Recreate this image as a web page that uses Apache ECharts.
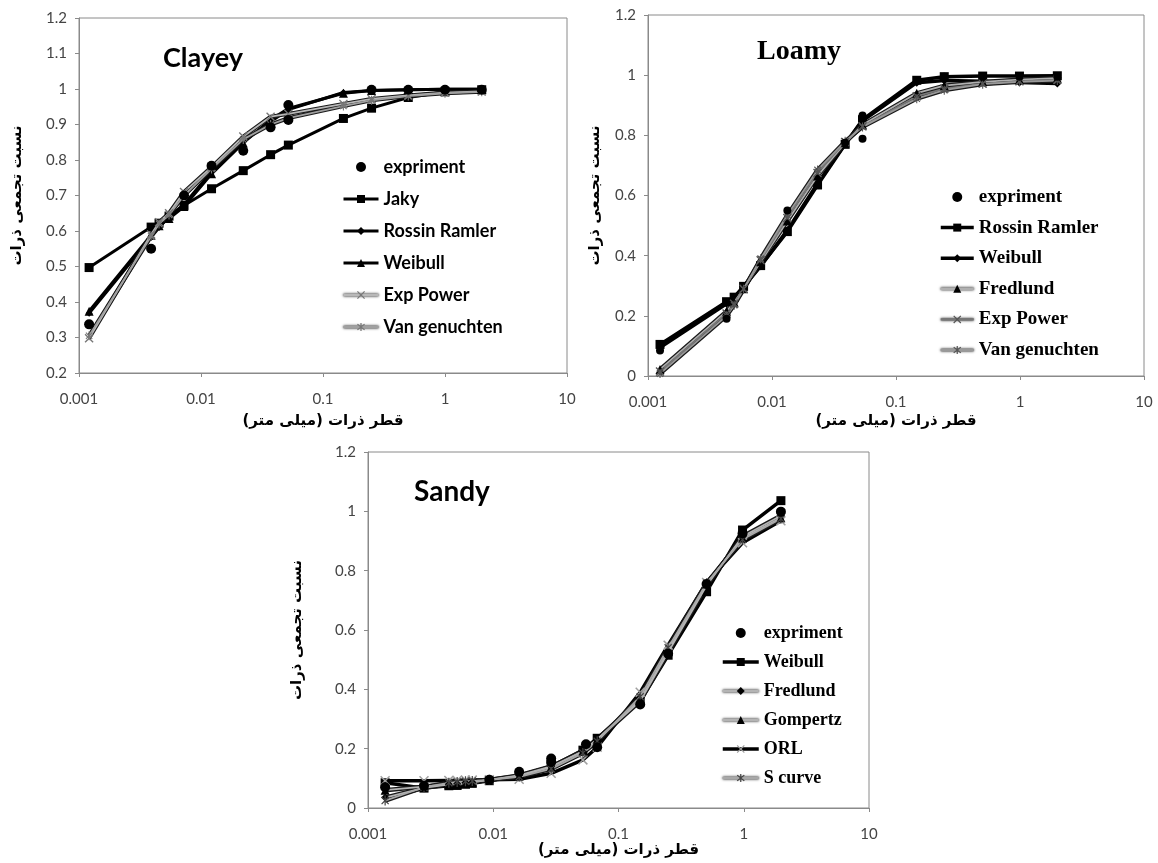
<!DOCTYPE html>
<html><head><meta charset="utf-8">
<script src="https://cdn.jsdelivr.net/npm/echarts@6/dist/echarts.min.js"></script>
<style>html,body{margin:0;padding:0;background:#fff}#c{width:1158px;height:863px}</style>
</head><body><div id="c"></div>
<script>
// ---------------- data ----------------
const yTitle = '\u200F' + 'نسبت تجمعی ذرات' + '\u200F';
const xTitle = '\u200F' + 'قطر ذرات (میلی متر)' + '\u200F';

// Clayey
const clayX        = [0.00121, 0.0039, 0.00453, 0.00547, 0.00726, 0.0122, 0.0222, 0.0372, 0.052, 0.147, 0.25, 0.5, 1, 2];
const clayJaky     = [0.497, 0.611, 0.622, 0.642, 0.672, 0.719, 0.770, 0.815, 0.842, 0.917, 0.946, 0.976, 0.992, 0.998];
const clayRossin   = [0.368, 0.582, 0.610, 0.640, 0.675, 0.768, 0.852, 0.908, 0.942, 0.990, 0.996, 0.998, 0.999, 0.999];
const clayWeibull  = [0.374, 0.588, 0.615, 0.635, 0.669, 0.761, 0.848, 0.913, 0.945, 0.988, 0.996, 0.998, 0.999, 0.999];
const clayExpPow   = [0.298, 0.590, 0.625, 0.650, 0.710, 0.780, 0.866, 0.922, 0.930, 0.958, 0.972, 0.982, 0.990, 0.993];
const clayVanG     = [0.305, 0.585, 0.620, 0.645, 0.700, 0.775, 0.858, 0.900, 0.918, 0.952, 0.968, 0.980, 0.988, 0.992];
const clayExpX     = [0.00121, 0.0039, 0.00726, 0.0122, 0.0222, 0.0372, 0.052, 0.052, 0.25, 0.5, 1, 2];
const clayExpY     = [0.337, 0.550, 0.700, 0.784, 0.826, 0.892, 0.955, 0.913, 0.998, 0.998, 0.998, 0.998];

// Loamy
const loamX        = [0.00125, 0.0043, 0.00495, 0.0059, 0.0081, 0.0133, 0.0233, 0.0389, 0.0537, 0.147, 0.245, 0.5, 0.99, 2.0];
const loamRossin   = [0.105, 0.247, 0.262, 0.298, 0.367, 0.480, 0.635, 0.770, 0.852, 0.983, 0.995, 0.997, 0.997, 0.998];
const loamWeibull  = [0.095, 0.240, 0.258, 0.296, 0.365, 0.485, 0.640, 0.772, 0.848, 0.975, 0.982, 0.980, 0.976, 0.972];
const loamFredlund = [0.022, 0.215, 0.245, 0.290, 0.380, 0.515, 0.665, 0.775, 0.835, 0.940, 0.965, 0.978, 0.985, 0.990];
const loamExpPow   = [0.015, 0.208, 0.240, 0.290, 0.385, 0.525, 0.675, 0.778, 0.830, 0.930, 0.955, 0.972, 0.980, 0.985];
const loamVanG     = [0.008, 0.200, 0.235, 0.288, 0.390, 0.535, 0.685, 0.780, 0.828, 0.922, 0.950, 0.970, 0.978, 0.982];
const loamExpX     = [0.00125, 0.0043, 0.0133, 0.0389, 0.0537, 0.0537, 0.245, 0.5, 0.99, 2.0];
const loamExpY     = [0.085, 0.190, 0.550, 0.775, 0.866, 0.789, 0.995, 0.995, 0.995, 0.995];

// Sandy
const sandX        = [0.00137, 0.0028, 0.00442, 0.00515, 0.006, 0.0068, 0.0093, 0.0161, 0.029, 0.052, 0.0676, 0.149, 0.249, 0.505, 0.978, 1.98];
const sandWeibull  = [0.085, 0.067, 0.075, 0.076, 0.080, 0.083, 0.092, 0.110, 0.140, 0.195, 0.235, 0.360, 0.515, 0.729, 0.937, 1.036];
const sandFredlund = [0.035, 0.068, 0.080, 0.082, 0.085, 0.087, 0.095, 0.110, 0.140, 0.190, 0.230, 0.360, 0.525, 0.750, 0.915, 0.985];
const sandGompertz = [0.060, 0.072, 0.080, 0.082, 0.085, 0.087, 0.095, 0.108, 0.138, 0.192, 0.232, 0.365, 0.530, 0.755, 0.910, 0.978];
const sandORL      = [0.092, 0.092, 0.093, 0.093, 0.094, 0.094, 0.095, 0.097, 0.117, 0.162, 0.205, 0.390, 0.549, 0.760, 0.894, 0.968];
const sandScurve   = [0.025, 0.070, 0.085, 0.088, 0.090, 0.091, 0.095, 0.105, 0.132, 0.185, 0.225, 0.375, 0.540, 0.758, 0.905, 0.975];
const sandExpX     = [0.00137, 0.0028, 0.0093, 0.0161, 0.029, 0.029, 0.055, 0.0676, 0.149, 0.249, 0.505, 0.978, 1.98];
const sandExpY     = [0.070, 0.075, 0.095, 0.122, 0.167, 0.155, 0.215, 0.205, 0.349, 0.520, 0.755, 0.925, 0.999];

// ---------------- helpers ----------------
function pairs(xs, ys) { return xs.map((x, i) => [x, ys[i]]); }

function armStar(angles, R, hw) {
  const pts = [];
  const n = angles.length;
  for (let i = 0; i < n; i++) {
    const a = angles[i] * Math.PI / 180;
    const c = Math.cos(a), s = Math.sin(a);
    const px = -s, py = c;
    pts.push([R * c - hw * px, R * s - hw * py]);
    pts.push([R * c + hw * px, R * s + hw * py]);
    const b = angles[(i + 1) % n] + (i + 1 === n ? 360 : 0);
    const gap = (b - angles[i]) * Math.PI / 180;
    const mid = a + gap / 2;
    const r = hw / Math.sin(gap / 2);
    pts.push([r * Math.cos(mid), r * Math.sin(mid)]);
  }
  return 'path://' + pts.map((p, i) => (i ? 'L' : 'M') + (p[0] + R).toFixed(3) + ',' + (p[1] + R).toFixed(3)).join('') + 'Z';
}
const SYM_X = armStar([45, 135, 225, 315], 5, 0.6);
const SYM_STAR = armStar([45, 90, 135, 225, 270, 315], 5, 0.6);

const outlinedNames = [];
function blackLine(name, gi, xs, ys, symbol, size, width) {
  return [{
    type: 'line', name, xAxisIndex: gi, yAxisIndex: gi, data: pairs(xs, ys),
    symbol, symbolSize: size, symbolKeepAspect: true, showSymbol: true,
    lineStyle: { color: '#000', width: width },
    itemStyle: { color: '#000' }, z: 3
  }];
}
// grey line with a dark outline: grey core (carries markers & legend icon) over a wider black line
function outlinedLine(name, gi, xs, ys, symbol, size, symColor, coreColor, outerW) {
  const d = pairs(xs, ys);
  outlinedNames.push(name);
  return [{
    type: 'line', name, xAxisIndex: gi, yAxisIndex: gi, data: d,
    symbol, symbolSize: size, symbolKeepAspect: true, showSymbol: true,
    lineStyle: { color: coreColor || '#b4b4b4', width: 1.8 },
    itemStyle: { color: symColor }, z: 4
  }, {
    type: 'line', name, xAxisIndex: gi, yAxisIndex: gi, data: d,
    symbol: 'none', silent: true,
    lineStyle: { color: '#1a1a1a', width: outerW || 4.2 }, z: 3
  }];
}
function expScatter(name, gi, xs, ys, size) {
  return [{
    type: 'scatter', name, xAxisIndex: gi, yAxisIndex: gi, data: pairs(xs, ys),
    symbol: 'circle', symbolSize: size, itemStyle: { color: '#000', opacity: 1 }, z: 6
  }];
}

const tickFont = { fontFamily: 'Lato', fontSize: 15, color: '#444' };
const axisColor = '#8a8a8a';
function xAxis(gi, gap) {
  return {
    type: 'log', logBase: 10, min: 0.001, max: 10, gridIndex: gi,
    axisLine: { show: true, lineStyle: { color: axisColor, width: 1 } },
    axisTick: { show: true, inside: false, length: 4, lineStyle: { color: axisColor } },
    minorTick: { show: false }, splitLine: { show: false }, minorSplitLine: { show: false },
    axisLabel: Object.assign({ margin: 19, formatter: v => String(+(+v).toPrecision(6)) }, tickFont),
    name: xTitle, nameLocation: 'middle', nameGap: gap,
    nameTextStyle: { fontFamily: 'DejaVu Sans', fontWeight: 'bold', fontSize: 15, color: '#000' }
  };
}
function yAxis(gi, min, max, interval, gap) {
  return {
    type: 'value', min, max, interval, gridIndex: gi,
    axisLine: { show: true, lineStyle: { color: axisColor, width: 1 } },
    axisTick: { show: true, inside: false, length: 4, lineStyle: { color: axisColor } },
    splitLine: { show: false },
    axisLabel: Object.assign({ margin: 12, formatter: v => String(+(+v).toFixed(1)) }, tickFont),
    name: yTitle, nameLocation: 'middle', nameGap: gap,
    nameTextStyle: { fontFamily: 'DejaVu Sans', fontWeight: 'bold', fontSize: 15, color: '#000' }
  };
}
function legend(left, top, itemWidth, gap, names, font) {
  return {
    orient: 'vertical', left, top, itemWidth, itemHeight: 10, itemGap: gap,
    selectedMode: false,
    data: names.map(n => outlinedNames.indexOf(n) >= 0
      ? { name: n, lineStyle: { width: 2.4, shadowColor: 'rgba(0,0,0,1)', shadowBlur: 2.5 } }
      : n),
    formatter: n => n.split('|')[0],
    lineStyle: { width: 'inherit' },
    textStyle: Object.assign({ color: '#000', lineHeight: 20 }, font)
  };
}

const calFont = { fontFamily: 'Lato', fontWeight: 'bold', fontSize: 18 };
const timesFont = { fontFamily: 'Liberation Serif', fontWeight: 'bold', fontSize: 19 };
const timesFontS = { fontFamily: 'Liberation Serif', fontWeight: 'bold', fontSize: 18 };

const series = [].concat(
  // Clayey (grid 0)
  blackLine('Jaky|c', 0, clayX, clayJaky, 'rect', 9, 3),
  blackLine('Rossin Ramler|c', 0, clayX, clayRossin, 'diamond', 7, 3),
  blackLine('Weibull|c', 0, clayX, clayWeibull, 'triangle', 9, 3),
  outlinedLine('Exp Power|c', 0, clayX, clayExpPow, SYM_X, 9, '#777', '#b8b8b8', 4),
  outlinedLine('Van genuchten|c', 0, clayX, clayVanG, SYM_STAR, 9, '#777', '#a0a0a0', 4),
  expScatter('expriment|c', 0, clayExpX, clayExpY, 10),
  // Loamy (grid 1)
  blackLine('Rossin Ramler|l', 1, loamX, loamRossin, 'rect', 9, 3.5),
  blackLine('Weibull|l', 1, loamX, loamWeibull, 'diamond', 8, 3.5),
  outlinedLine('Fredlund|l', 1, loamX, loamFredlund, 'triangle', 9, '#000', '#b0b0b0', 4.2),
  outlinedLine('Exp Power|l', 1, loamX, loamExpPow, SYM_X, 9, '#555', '#777', 4.2),
  outlinedLine('Van genuchten|l', 1, loamX, loamVanG, SYM_STAR, 9, '#555', '#999', 4.2),
  expScatter('expriment|l', 1, loamExpX, loamExpY, 8),
  // Sandy (grid 2)
  blackLine('Weibull|s', 2, sandX, sandWeibull, 'rect', 9, 3.5),
  outlinedLine('Fredlund|s', 2, sandX, sandFredlund, 'diamond', 8, '#000', '#b4b4b4', 4.4),
  outlinedLine('Gompertz|s', 2, sandX, sandGompertz, 'triangle', 9, '#000', '#b4b4b4', 4.4),
  blackLine('ORL|s', 2, sandX, sandORL, SYM_X, 10, 3.5),
  outlinedLine('S curve|s', 2, sandX, sandScurve, SYM_STAR, 10, '#444', '#a8a8a8', 4.4),
  expScatter('expriment|s', 2, sandExpX, sandExpY, 10)
);
// ORL markers are light grey crosses
series.forEach(s => { if (s.name === 'ORL|s') s.itemStyle = { color: '#a0a0a0' }; });

const option = {
  backgroundColor: '#fff',
  animation: false,
  grid: [
    { left: 79, top: 18, width: 488, height: 355, show: true, borderColor: axisColor, borderWidth: 1, containLabel: false },
    { left: 648, top: 15, width: 496, height: 361, show: true, borderColor: axisColor, borderWidth: 1, containLabel: false },
    { left: 368, top: 452, width: 501, height: 356, show: true, borderColor: axisColor, borderWidth: 1, containLabel: false }
  ],
  xAxis: [xAxis(0, 41), xAxis(1, 38), xAxis(2, 34)],
  yAxis: [yAxis(0, 0.2, 1.2, 0.1, 54), yAxis(1, 0, 1.2, 0.2, 45), yAxis(2, 0, 1.2, 0.2, 63)],
  title: [
    { text: 'Clayey', left: 163, top: 45, padding: 0, textStyle: { fontFamily: 'Lato', fontWeight: 'bold', fontSize: 27, color: '#000' } },
    { text: 'Loamy', left: 757, top: 38, padding: 0, textStyle: { fontFamily: 'Liberation Serif', fontWeight: 'bold', fontSize: 28, color: '#000' } },
    { text: 'Sandy', left: 414, top: 478, padding: 0, textStyle: { fontFamily: 'Lato', fontWeight: 'bold', fontSize: 28, color: '#000' } }
  ],
  legend: [
    legend(337, 152, 35, 12, ['expriment|c', 'Jaky|c', 'Rossin Ramler|c', 'Weibull|c', 'Exp Power|c', 'Van genuchten|c'], calFont),
    legend(934, 182, 33, 10.6, ['expriment|l', 'Rossin Ramler|l', 'Weibull|l', 'Fredlund|l', 'Exp Power|l', 'Van genuchten|l'], timesFont),
    legend(716, 618, 36, 9, ['expriment|s', 'Weibull|s', 'Fredlund|s', 'Gompertz|s', 'ORL|s', 'S curve|s'], timesFontS)
  ],
  series
};
const chart = echarts.init(document.getElementById('c'), null, { renderer: 'canvas' });
chart.setOption(option);
</script></body></html>
